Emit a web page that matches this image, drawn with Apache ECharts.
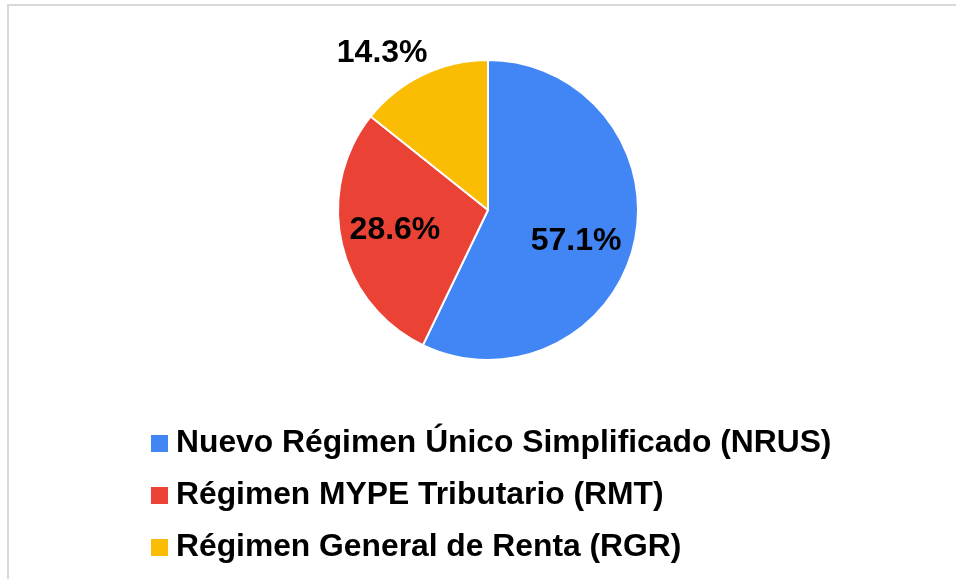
<!DOCTYPE html>
<html>
<head>
<meta charset="utf-8">
<script src="https://cdn.jsdelivr.net/npm/echarts@6/dist/echarts.min.js"></script>
<style>
html,body{margin:0;padding:0;background:#fff;}
#chart{width:956px;height:579px;}
</style>
</head>
<body>
<div id="chart"></div>
<script>
const categories = [
  'Nuevo Régimen Único Simplificado (NRUS)',
  'Régimen MYPE Tributario (RMT)',
  'Régimen General de Renta (RGR)'
];
const values = [4, 2, 1];
const colors = ['#4285F4', '#EA4335', '#FBBC04'];
const labelShift = [[12, 14], [-17, 3], [-72, -87]];

const FONT = '"Liberation Sans", Arial, Helvetica, sans-serif';
const chart = echarts.init(document.getElementById('chart'), null, {renderer: 'canvas'});
chart.setOption({
  animation: false,
  backgroundColor: '#ffffff',
  graphic: [{
    type: 'rect',
    shape: {x: 8, y: 5, width: 2000, height: 2000},
    style: {fill: 'none', stroke: '#d9d9d9', lineWidth: 2},
    silent: true
  }],
  legend: {
    orient: 'vertical',
    left: 151,
    top: 427.5,
    padding: 0,
    itemWidth: 17,
    itemHeight: 17,
    itemGap: 20,
    icon: 'rect',
    itemStyle: {borderWidth: 0},
    textStyle: {fontFamily: FONT, fontWeight: 'bold', fontSize: 31.8, lineHeight: 32, color: '#000', padding: [0, 0, 0, 3]},
    data: categories
  },
  series: [{
    type: 'pie',
    center: [488, 210],
    radius: [0, 150],
    startAngle: 90,
    clockwise: true,
    percentPrecision: 1,
    itemStyle: {borderColor: '#ffffff', borderWidth: 2},
    label: {
      show: true,
      position: 'inside',
      formatter: '{d}%',
      fontFamily: FONT,
      fontWeight: 'bold',
      fontSize: 32,
      color: '#000'
    },
    labelLine: {show: false},
    labelLayout: function (p) {
      const s = labelShift[p.dataIndex];
      return {dx: s[0], dy: s[1]};
    },
    emphasis: {disabled: true},
    data: categories.map((c, i) => ({name: c, value: values[i], itemStyle: {color: colors[i]}}))
  }]
});
</script>
</body>
</html>
